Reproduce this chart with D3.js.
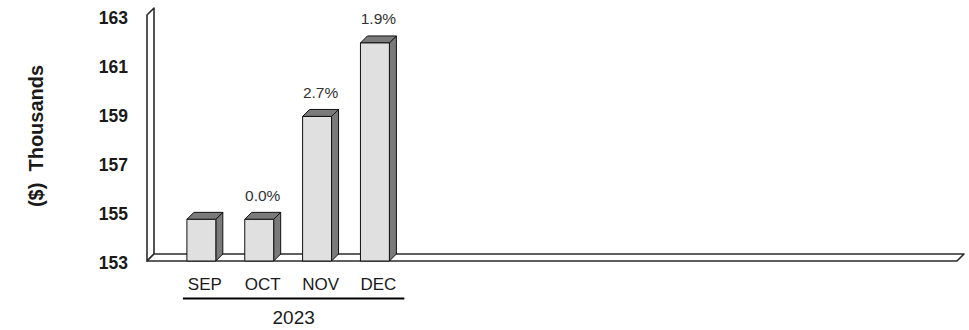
<!DOCTYPE html>
<html><head><meta charset="utf-8">
<script src="https://cdn.jsdelivr.net/npm/d3@7"></script>
<style>
html,body{margin:0;padding:0;background:#fff;}
svg{display:block;}
text{font-family:"Liberation Sans",Arial,sans-serif;fill:#1a1a1a;}
.tick{font-family:"Liberation Sans Narrow","Arial Narrow","Liberation Sans",sans-serif;}
</style></head><body>
<svg id="c" width="969" height="330"></svg>
<script>
const categories = ["SEP","OCT","NOV","DEC"];
const values = [154.7, 154.7, 158.9, 161.9];
const changeLabels = ["", "0.0%", "2.7%", "1.9%"];
const yTicks = [153,155,157,159,161,163];
const groupLabel = "2023";
const yTitle = "($)  Thousands";
const slotCount = 14;

const svg = d3.select("#c");
const X0 = 147, X1 = 957, YB = 261, YT = 16, DX = 7, DY = 7;
const y = d3.scaleLinear().domain([153,163]).range([YB, YT]);
const x = d3.scaleLinear().domain([0, slotCount]).range([X0, X1]);
const slotW = x(1) - x(0);
const barW = slotW * 0.5;
const center = i => x(i + 1);

const stroke = "#2b2b2b";
svg.append("path")
  .attr("d", `M${X0},${YB} L${X0},${YT-1} L${X0+DX},${YT-1-DY} L${X0+DX},${YB-DY} Z`)
  .attr("fill","#fff").attr("stroke",stroke).attr("stroke-width",1.6).attr("stroke-linejoin","round");
svg.append("path")
  .attr("d", `M${X0},${YB} L${X1},${YB} L${X1+DX},${YB-DY} L${X0+DX},${YB-DY} Z`)
  .attr("fill","#fff").attr("stroke",stroke).attr("stroke-width",1.6).attr("stroke-linejoin","round");

const g = svg.append("g");
values.forEach((v, i) => {
  const left = center(i) - DX/2 - barW/2;
  const right = left + barW;
  const top = y(v);
  const bg = g.append("g").attr("stroke","#111").attr("stroke-width",1).attr("stroke-linejoin","round");
  bg.append("path").attr("d", `M${right},${YB} L${right},${top} L${right+DX},${top-DY} L${right+DX},${YB-DY} Z`).attr("fill","#7a7a7a");
  bg.append("path").attr("d", `M${left},${top} L${right},${top} L${right+DX},${top-DY} L${left+DX},${top-DY} Z`).attr("fill","#7a7a7a");
  bg.append("rect").attr("x", left).attr("y", top).attr("width", barW).attr("height", YB - top).attr("fill","#e0e0e0");
  if (changeLabels[i]) {
    svg.append("text").attr("x", center(i)).attr("y", top - DY - 17)
      .attr("text-anchor","middle").attr("dominant-baseline","central")
      .style("font-size","15.5px").style("fill","#333").text(changeLabels[i]);
  }
});

svg.append("g").selectAll("text").data(yTicks).join("text")
  .attr("class","tick")
  .attr("x", 128).attr("y", d => y(d) + 2)
  .attr("text-anchor","end").attr("dominant-baseline","central")
  .style("font-size","17.5px").style("font-weight","bold").text(d => d);

svg.append("text").attr("transform","translate(36,136) rotate(-90)")
  .attr("text-anchor","middle").attr("dominant-baseline","central")
  .style("font-size","20px").style("font-weight","bold").style("white-space","pre").attr("xml:space","preserve").text(yTitle);

svg.append("g").selectAll("text").data(categories).join("text")
  .attr("x", (d,i) => center(i)).attr("y", 284)
  .attr("text-anchor","middle").attr("dominant-baseline","central")
  .style("font-size","17px").text(d => d);

const gx0 = center(0) - slotW/2 + 7, gx1 = center(categories.length-1) + slotW/2 - 3;
svg.append("line").attr("x1", gx0).attr("x2", gx1).attr("y1", 298.5).attr("y2", 298.5)
  .attr("stroke","#000").attr("stroke-width",2.2);
svg.append("text").attr("x", (gx0+gx1)/2).attr("y", 317)
  .attr("text-anchor","middle").attr("dominant-baseline","central")
  .style("font-size","19px").text(groupLabel);
</script>
</body></html>
